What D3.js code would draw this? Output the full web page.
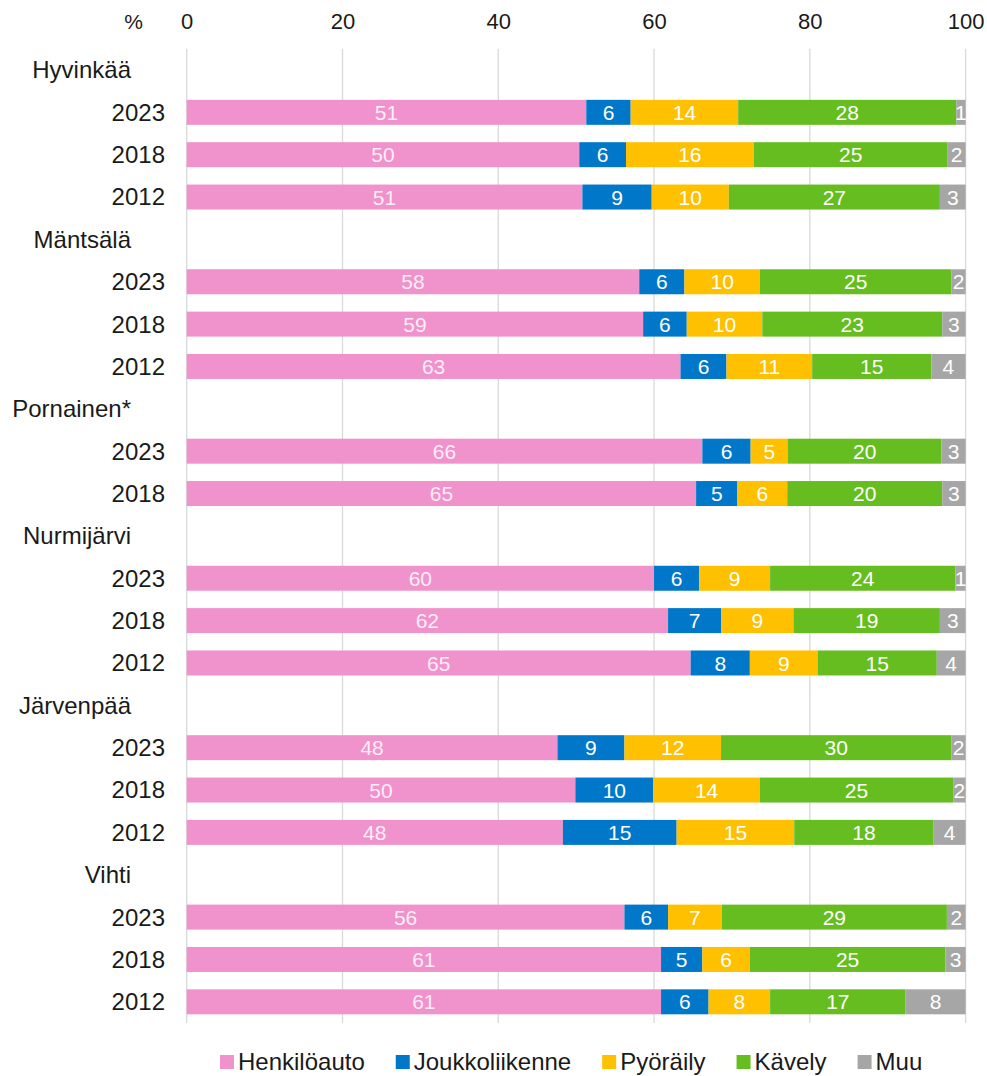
<!DOCTYPE html>
<html>
<head>
<meta charset="utf-8">
<script src="https://cdn.jsdelivr.net/npm/d3@7"></script>
<style>
  html, body { margin: 0; padding: 0; background: #ffffff; }
  svg { display: block; font-family: "Liberation Sans", Arial, sans-serif; }
</style>
</head>
<body>
<svg id="chart" width="987" height="1076"></svg>
<script>
// Kulkutapaosuudet kunnittain ja vuosittain (%)
const municipalities = ["Hyvinkää", "Mäntsälä", "Pornainen*", "Nurmijärvi", "Järvenpää", "Vihti"];
const rowMunicipality = [
  "Hyvinkää", "Hyvinkää", "Hyvinkää",
  "Mäntsälä", "Mäntsälä", "Mäntsälä",
  "Pornainen*", "Pornainen*",
  "Nurmijärvi", "Nurmijärvi", "Nurmijärvi",
  "Järvenpää", "Järvenpää", "Järvenpää",
  "Vihti", "Vihti", "Vihti"
];
const rowYear = [
  "2023", "2018", "2012",
  "2023", "2018", "2012",
  "2023", "2018",
  "2023", "2018", "2012",
  "2023", "2018", "2012",
  "2023", "2018", "2012"
];
const henkiloauto    = [51.3, 50.4, 50.8, 58.1, 58.6, 63.4, 66.2, 65.4, 60.0, 61.8, 64.7, 47.6, 49.9, 48.3, 56.2, 60.9, 60.9];
const joukkoliikenne = [ 5.7,  6.0,  8.9,  5.8,  5.6,  5.9,  6.2,  5.3,  5.8,  6.8,  7.6,  8.6, 10.0, 14.6,  5.6,  5.3,  6.1];
const pyoraily       = [13.8, 16.4,  9.9,  9.7,  9.7, 11.0,  4.8,  6.4,  9.1,  9.3,  8.7, 12.4, 13.7, 15.1,  6.9,  6.1,  7.9];
const kavely         = [28.0, 24.9, 27.1, 24.6, 23.1, 15.3, 19.7, 19.9, 23.8, 18.8, 15.3, 29.6, 24.8, 17.9, 28.9, 25.1, 17.4];
const muu            = [ 1.2,  2.3,  3.3,  1.8,  3.0,  4.4,  3.1,  3.0,  1.3,  3.3,  3.7,  1.8,  1.6,  4.1,  2.4,  2.6,  7.7];

const seriesNames  = ["Henkilöauto", "Joukkoliikenne", "Pyöräily", "Kävely", "Muu"];
const seriesColors = ["#f093cc", "#0077c8", "#ffc000", "#66bd20", "#a6a6a6"];
const tickValues   = [0, 20, 40, 60, 80, 100];

const seriesValues = [henkiloauto, joukkoliikenne, pyoraily, kavely, muu];

// Rows of the chart: a heading row for each municipality, followed by its years
const rows = [];
municipalities.forEach(m => {
  rows.push({ key: "h-" + m, type: "header", label: m });
  rowMunicipality.forEach((rm, i) => {
    if (rm === m) rows.push({ key: m + "-" + rowYear[i], type: "bar", label: rowYear[i], index: i });
  });
});

const svg = d3.select("#chart");

const x = d3.scaleLinear().domain([0, 100]).range([186.7, 965.6]);
const y = d3.scaleBand()
  .domain(rows.map(r => r.key))
  .range([48.8, 1023])
  .paddingInner(0.41)
  .paddingOuter(0.205);

// Vertical gridlines
svg.append("g")
  .selectAll("line")
  .data(tickValues)
  .join("line")
  .attr("x1", d => x(d)).attr("x2", d => x(d))
  .attr("y1", 48.8).attr("y2", 1023)
  .attr("stroke", "#d9d9d9")
  .attr("stroke-width", 1.3);

// Top axis labels
const axis = d3.axisTop(x).tickValues(tickValues).tickSize(0).tickPadding(0).tickFormat(d3.format("d"));
const axisG = svg.append("g").attr("transform", "translate(0,29)").call(axis);
axisG.select(".domain").remove();
axisG.selectAll("text")
  .attr("font-size", 22)
  .attr("font-family", "Liberation Sans, Arial, sans-serif")
  .attr("fill", "#1a1a1a")
  .attr("dy", 0);

svg.append("text")
  .attr("x", 143).attr("y", 29)
  .attr("text-anchor", "end")
  .attr("font-size", 21)
  .attr("fill", "#1a1a1a")
  .text("%");

// Row labels
svg.append("g")
  .selectAll("text")
  .data(rows)
  .join("text")
  .attr("x", d => d.type === "header" ? 131 : 165)
  .attr("y", d => y(d.key) + y.bandwidth() / 2)
  .attr("dy", "0.35em")
  .attr("text-anchor", "end")
  .attr("font-size", 24)
  .attr("fill", "#1a1a1a")
  .text(d => d.label);

// Stacked segments
const barRows = rows.filter(r => r.type === "bar");
const segments = [];
barRows.forEach(r => {
  let acc = 0;
  seriesValues.forEach((vals, s) => {
    const v = vals[r.index];
    segments.push({ key: r.key, s, x0: acc, x1: acc + v, v });
    acc += v;
  });
});

svg.append("g")
  .selectAll("rect")
  .data(segments)
  .join("rect")
  .attr("x", d => x(d.x0))
  .attr("y", d => y(d.key))
  .attr("width", d => x(d.x1) - x(d.x0))
  .attr("height", y.bandwidth())
  .attr("fill", d => seriesColors[d.s]);

svg.append("g")
  .selectAll("text")
  .data(segments)
  .join("text")
  .attr("x", d => (x(d.x0) + x(d.x1)) / 2)
  .attr("y", d => y(d.key) + y.bandwidth() / 2)
  .attr("dy", "0.36em")
  .attr("text-anchor", "middle")
  .attr("font-size", 21)
  .attr("fill", "#ffffff")
  .attr("fill-opacity", d => d.s === 0 ? 0.85 : 1)
  .text(d => d3.format(".0f")(d.v));

// Legend
const legend = svg.append("g");
let lx = 220;
seriesNames.forEach((name, i) => {
  legend.append("rect")
    .attr("x", lx).attr("y", 1055)
    .attr("width", 14).attr("height", 14)
    .attr("fill", seriesColors[i]);
  const t = legend.append("text")
    .attr("x", lx + 18).attr("y", 1070)
    .attr("font-size", 24)
    .attr("fill", "#1a1a1a")
    .text(name);
  lx += 18 + t.node().getComputedTextLength() + 31;
});
</script>
</body>
</html>
